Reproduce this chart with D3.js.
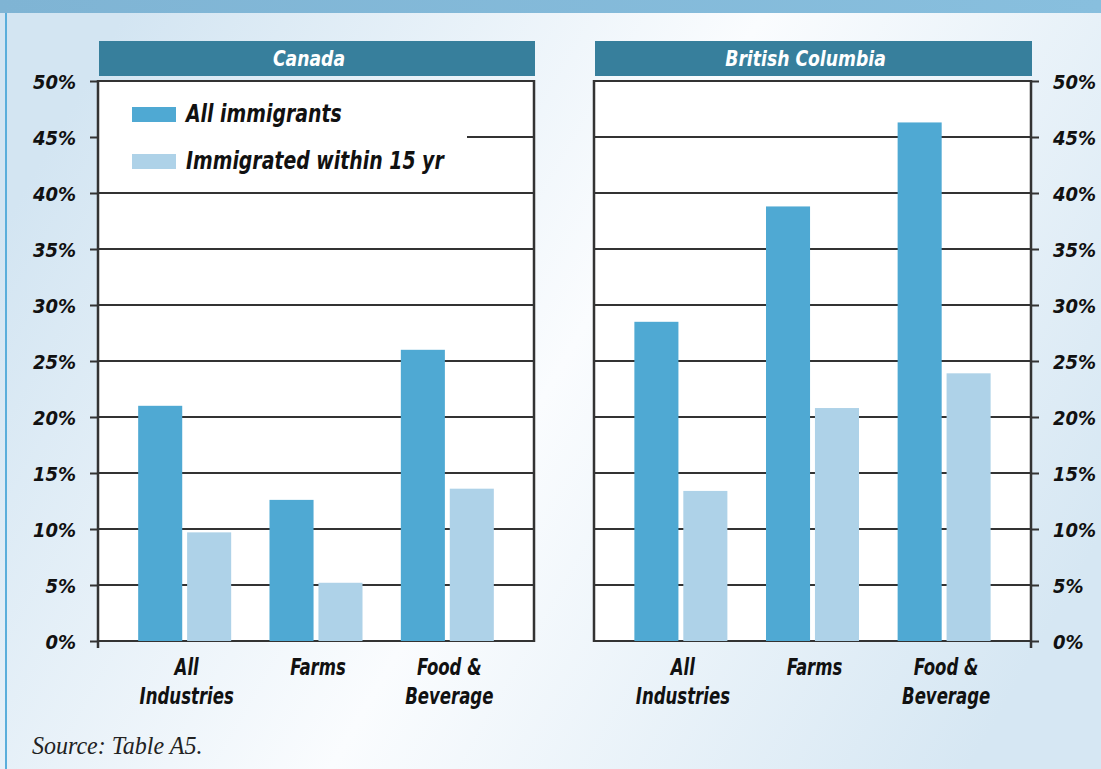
<!DOCTYPE html>
<html>
<head>
<meta charset="utf-8">
<script src="https://cdn.jsdelivr.net/npm/d3@7"></script>
<style>
  html, body { margin: 0; padding: 0; }
  svg { display: block; }
  .lbl { font-family: "Liberation Sans Narrow", "DejaVu Sans Condensed", sans-serif; font-weight: bold; font-style: italic; fill: #111; }
</style>
</head>
<body>
<svg id="chart" width="1101" height="769"></svg>
<script>
// Share of workers who are immigrants, by industry
const categories = ["All Industries", "Farms", "Food & Beverage"];
const categoryLines = [["All", "Industries"], ["Farms"], ["Food &", "Beverage"]];
const seriesNames = ["All immigrants", "Immigrated within 15 yr"];
const regions = ["Canada", "British Columbia"];
const canadaAll = [21.0, 12.6, 26.0];
const canadaRecent = [9.7, 5.2, 13.6];
const bcAll = [28.5, 38.8, 46.3];
const bcRecent = [13.4, 20.8, 23.9];
const yTicks = [0, 5, 10, 15, 20, 25, 30, 35, 40, 45, 50];
const sourceNote = "Source: Table A5.";

const regionData = [
  { name: regions[0], series: [canadaAll, canadaRecent], axis: "left" },
  { name: regions[1], series: [bcAll, bcRecent], axis: "right" }
];
const colors = ["#4fa9d3", "#aed2e8"];

const W = 1101, H = 769;
const svg = d3.select("#chart");

// narrow text: placed at (x, y) and squeezed horizontally
function narrowText(parent, x, y, str, size, sx, anchor) {
  return parent.append("text").attr("class", "lbl")
    .attr("transform", `translate(${x},${y}) scale(${sx},1)`)
    .attr("text-anchor", anchor || "start")
    .style("font-size", size + "px")
    .text(str);
}

// page background
const defs = svg.append("defs");
const bg = defs.append("linearGradient").attr("id", "bg")
  .attr("x1", "0").attr("y1", "0.3").attr("x2", "1").attr("y2", "0.7");
bg.append("stop").attr("offset", "0").attr("stop-color", "#d3e5f2");
bg.append("stop").attr("offset", "0.5").attr("stop-color", "#fafcfe");
bg.append("stop").attr("offset", "1").attr("stop-color", "#d6e7f3");
const topBand = defs.append("linearGradient").attr("id", "topband")
  .attr("x1", "0").attr("y1", "0").attr("x2", "1").attr("y2", "0");
topBand.append("stop").attr("offset", "0").attr("stop-color", "#7fb4d4");
topBand.append("stop").attr("offset", "1").attr("stop-color", "#88bfde");

svg.append("rect").attr("width", W).attr("height", H).attr("fill", "url(#bg)");
svg.append("rect").attr("width", W).attr("height", 13).attr("fill", "url(#topband)");
svg.append("rect").attr("x", 5).attr("y", 13).attr("width", 2).attr("height", H - 13).attr("fill", "#5aaedb");

const plotTop = 81, plotBottom = 641;
const panels = [[98, 534], [594, 1031]];

const y = d3.scaleLinear().domain([0, 50]).range([plotBottom, plotTop]);

regionData.forEach((reg, i) => {
  const [x0, x1] = panels[i];
  const g = svg.append("g");

  // header bar
  g.append("rect").attr("x", x0 + 1).attr("y", 41).attr("width", x1 - x0).attr("height", 35)
    .attr("fill", "#377f9c");
  narrowText(g, (x0 + x1) / 2 - 7, 66, reg.name, 22, 0.87, "middle").style("fill", "#fff");

  // plot area
  g.append("rect").attr("x", x0).attr("y", plotTop).attr("width", x1 - x0)
    .attr("height", plotBottom - plotTop).attr("fill", "#fff");

  // y axis with gridlines
  const axis = (reg.axis === "left" ? d3.axisLeft(y) : d3.axisRight(y))
    .tickValues(yTicks).tickFormat(d => d + "%").tickSizeOuter(0);
  const ax = g.append("g")
    .attr("transform", `translate(${reg.axis === "left" ? x0 : x1},0)`)
    .call(axis.tickSizeInner(8).tickPadding(14));
  ax.select(".domain").remove();
  ax.selectAll("line").attr("stroke", "#333").attr("stroke-width", 2);
  ax.selectAll("text").attr("class", "lbl").style("font-size", "20px")
    .attr("dy", "0.36em");

  const grid = g.append("g");
  grid.selectAll("line").data(yTicks).join("line")
    .attr("x1", x0).attr("x2", x1)
    .attr("y1", d => y(d)).attr("y2", d => y(d))
    .attr("stroke", "#333").attr("stroke-width", 2);

  // legend box on the first panel
  if (i === 0) {
    const lg = g.append("g");
    lg.append("rect").attr("x", x0 + 1).attr("y", plotTop + 3).attr("width", 368).attr("height", 102)
      .attr("fill", "#fff");
    seriesNames.forEach((s, k) => {
      lg.append("rect").attr("x", 132).attr("y", 107 + k * 47).attr("width", 44).attr("height", 15)
        .attr("fill", colors[k]);
      narrowText(lg, 186, 122 + k * 47, s, 25, 0.84);
    });
  }

  // bars
  const x = d3.scaleBand().domain(categories).range([x0, x1]).paddingInner(0).paddingOuter(0.16);
  const xi = d3.scaleBand().domain([0, 1]).range([0, 93]).paddingInner(0.1);
  categories.forEach((c, ci) => {
    const gx = x(c) + x.bandwidth() / 2 - 46.5;
    reg.series.forEach((vals, k) => {
      g.append("rect")
        .attr("x", gx + xi(k)).attr("y", y(vals[ci]))
        .attr("width", xi.bandwidth()).attr("height", y(0) - y(vals[ci]))
        .attr("fill", colors[k]);
    });
    categoryLines[ci].forEach((line, li) => {
      narrowText(g, x(c) + x.bandwidth() / 2 + 2, 675 + li * 29, line, 23, 0.8, "middle");
    });
  });

  // frame
  g.append("line").attr("x1", x0).attr("x2", x0).attr("y1", plotTop - 1).attr("y2", plotBottom + (i === 0 ? 7 : 1))
    .attr("stroke", "#333").attr("stroke-width", 2.5);
  g.append("line").attr("x1", x1).attr("x2", x1).attr("y1", plotTop - 1).attr("y2", plotBottom + (i === 1 ? 7 : 1))
    .attr("stroke", "#333").attr("stroke-width", 2.5);
});

svg.append("text").attr("transform", "translate(32,754) scale(0.96,1)")
  .style("font-family", "'Liberation Serif', serif").style("font-style", "italic")
  .style("font-size", "25px").style("fill", "#222")
  .text(sourceNote);
</script>
</body>
</html>
